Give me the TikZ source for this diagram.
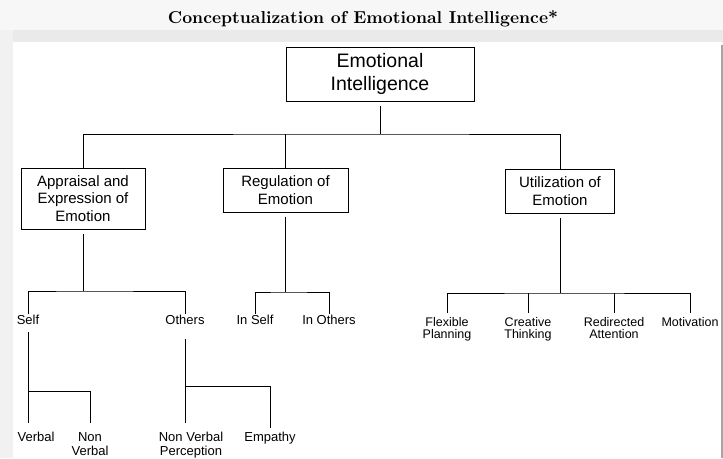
\documentclass[tikz,border=0pt]{standalone}
\usepackage{fontspec}
\newfontfamily\arialfont{Liberation Sans}
\definecolor{pagegray}{HTML}{F7F7F7}
\definecolor{bandgray}{HTML}{EAEAEA}
\definecolor{sidegray}{HTML}{F1F1F1}
\tikzset{
  box/.style={draw, line width=1pt, align=center, inner sep=0pt,
    font=\arialfont\fontsize{15}{17.3}\selectfont},
  leaf/.style={anchor=north, align=center, inner sep=1pt,
    font=\arialfont\fontsize{13}{14}\selectfont},
  twig/.style={anchor=north, align=center, inner xsep=1pt, inner ysep=4pt,
    font=\arialfont\fontsize{12.5}{12}\selectfont},
  edge/.style={line width=1pt},
  drop/.style={edge, shorten <=4pt}
}
\begin{document}
\begin{tikzpicture}[x=1pt,y=-1pt]
  \useasboundingbox (0,0) rectangle (723,458);
  \fill[pagegray] (0,0) rectangle (723,458);
  \fill[bandgray] (0,30) rectangle (723,42);
  \fill[sidegray] (0,30) rectangle (13,458);
  \fill[white] (13,42) rectangle (721,458);
  \draw[gray!70, line width=1.5pt] (722,45) -- (722,458);

  \node (title) at (363,19) {\resizebox{390pt}{!}{\bfseries Conceptualization of Emotional Intelligence*}};

  \node[box, minimum width=188pt, minimum height=54pt,
    font=\arialfont\fontsize{19.5}{23}\selectfont] (ei) at (380,74) {Emotional\\Intelligence};
  \node[box, minimum width=124pt, minimum height=61pt] (app) at (83,198.5) {Appraisal and\\Expression of\\Emotion};
  \node[box, minimum width=125pt, minimum height=44pt] (reg) at (285.5,190) {Regulation of\\Emotion};
  \node[box, minimum width=109pt, minimum height=44pt] (util) at (560,191) {Utilization of\\Emotion};

  \node[leaf] (self) at (28,314) {Self};
  \node[leaf] (others) at (185,314) {Others};
  \node[leaf] (inself) at (255,314) {In Self};
  \node[leaf] (inothers) at (329,314) {In Others};

  \node[twig] (flex) at (447,313) {Flexible\\Planning};
  \node[twig] (creat) at (528,313) {Creative\\Thinking};
  \node[twig] (redir) at (614,313) {Redirected\\Attention};
  \node[twig] (motiv) at (690,313) {Motivation};

  \node[leaf, inner ysep=9pt] (verbal) at (36,423) {Verbal};
  \node[leaf, inner ysep=9pt] (nverb) at (90,423) {Non\\Verbal};
  \node[leaf, inner ysep=9pt] (nvperc) at (191,423) {Non Verbal\\Perception};
  \node[leaf, inner ysep=4pt] (empathy) at (270,428) {Empathy};

  \coordinate (j0) at (380,134);
  \coordinate (j1) at (83,291);
  \coordinate (j2) at (285.5,292);
  \coordinate (j3) at (560,293);
  \coordinate (j4) at (28,391);
  \coordinate (j5) at (185,386);

  \draw[drop] (ei.south) -- (j0);
  \draw[edge] (app.north) |- (j0) -| (util.north);
  \draw[edge] (reg.north) -- (reg.north |- j0);

  \draw[drop] (app.south) -- (j1);
  \draw[edge] (self.north) |- (j1) -| (others.north);

  \draw[drop] (reg.south) -- (j2);
  \draw[edge] (inself.north) |- (j2) -| (inothers.north);

  \draw[drop] (util.south) -- (j3);
  \draw[edge] (flex.north) |- (j3) -| (motiv.north);
  \foreach \n in {creat,redir}
    \draw[edge] (\n.north) -- (\n.north |- j3);

  \draw[edge, shorten <=6pt] (self.south) -- (self.south |- verbal.north);
  \draw[edge] (j4) -| (nverb.north);

  \draw[edge, shorten <=13pt] (others.south) -- (others.south |- nvperc.north);
  \draw[edge] (j5) -| (empathy.north);
\end{tikzpicture}
\end{document}
